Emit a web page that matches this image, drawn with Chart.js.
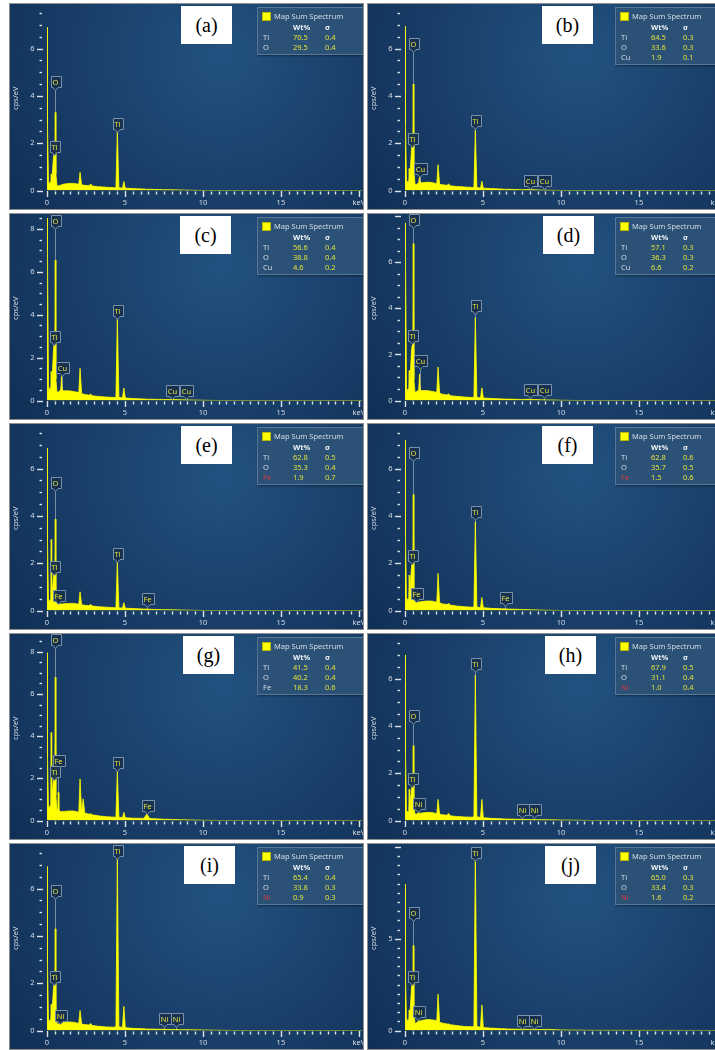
<!DOCTYPE html>
<html>
<head>
<meta charset="utf-8">
<script src="https://cdn.jsdelivr.net/npm/chart.js@4/dist/chart.umd.min.js"></script>
<style>
html, body { margin: 0; padding: 0; background: #fff; }
body { width: 715px; height: 1050px; overflow: hidden; position: relative; font-family: 'Noto Sans', sans-serif; }
.panel { position: absolute; width: 353px; height: 205px; outline: 1px solid #8f8f8f; overflow: hidden; background: #14365e; }
.panel canvas { position: absolute; left: 0; top: 0; }
.tag { position: absolute; top: 2px; width: 51px; height: 38px; background: #fff; color: #000;
  font: 20px 'Liberation Serif', 'Times New Roman', serif; line-height: 38px; text-align: center; }
.legend { position: absolute; left: 247px; top: 3px; width: 112px; background: #2b5276;
  border: 1px solid #56789a; box-shadow: 1px 1px 2px rgba(0,0,0,.45); font-size: 7.5px; color: #d4dbe4; }
.legend span { position: absolute; white-space: nowrap; line-height: 10px; }
.legend .sq { width: 7px; height: 7px; background: #ffff00; border: 1px solid #b8b800; left: 4px; top: 4px; }
.legend .hd { font-weight: bold; color: #eef2f6; }
.legend .val { color: #e0e03c; }
.legend .red { color: #d83a3a; }
</style>
</head>
<body>
<script>
// energy axis shared by all ten spectra (keV)
var energyKeV = [0, 0.03, 0.10, 0.18, 0.24, 0.27, 0.30, 0.36, 0.42, 0.47,
  0.50, 0.53, 0.57, 0.64, 0.69, 0.72, 0.76, 0.82, 0.85, 0.88,
  0.93, 0.98, 1.10, 1.40, 1.70, 1.98, 2.04, 2.12, 2.22, 2.32,
  2.42, 2.70, 2.80, 2.90, 3.30, 3.80, 4.30, 4.42, 4.51, 4.61,
  4.84, 4.93, 5.02, 5.50, 6.20, 6.40, 6.60, 7.20, 7.48, 8.04,
  8.60, 9.20, 10.0, 11.0, 12.0, 20.5];

// counts, cps/eV
var countsA = [6.9, 2.8, 0.25, 0.35, 0.3, 0.7, 0.35, 0.9, 1.45, 1.55,
  1.3, 3.3, 0.7, 0.22, 0.18, 0.2, 0.2, 0.22, 0.22, 0.23,
  0.24, 0.25, 0.27, 0.3, 0.3, 0.27, 0.27, 0.77, 0.24, 0.23,
  0.22, 0.2, 0.28, 0.19, 0.16, 0.14, 0.12, 0.12, 2.48, 0.12,
  0.1, 0.38, 0.1, 0.08, 0.06, 0.05, 0.05, 0.04, 0.035, 0.03,
  0.02, 0.01, 0, 0, 0, 0];
var countsB = [6.95, 2.8, 0.3, 0.4, 0.35, 0.93, 0.4, 1.1, 1.75, 1.95,
  1.6, 4.5, 0.8, 0.28, 0.25, 0.26, 0.27, 0.3, 0.32, 0.35,
  0.56, 0.33, 0.33, 0.35, 0.34, 0.3, 0.3, 1.09, 0.27, 0.25,
  0.24, 0.22, 0.28, 0.2, 0.17, 0.15, 0.13, 0.13, 2.54, 0.13,
  0.1, 0.39, 0.1, 0.08, 0.06, 0.05, 0.05, 0.04, 0.035, 0.04,
  0.02, 0.01, 0, 0, 0, 0];
var countsC = [8.5, 7.0, 0.4, 0.6, 0.5, 1.35, 0.6, 1.5, 2.4, 2.67,
  2.2, 6.54, 1.0, 0.4, 0.38, 0.4, 0.42, 0.45, 0.48, 0.5,
  1.12, 0.48, 0.45, 0.45, 0.42, 0.38, 0.38, 1.5, 0.33, 0.3,
  0.28, 0.25, 0.3, 0.22, 0.19, 0.16, 0.14, 0.15, 3.83, 0.15,
  0.12, 0.58, 0.12, 0.09, 0.07, 0.06, 0.06, 0.05, 0.045, 0.05,
  0.035, 0.025, 0.01, 0, 0, 0];
var countsD = [7.7, 6.4, 0.35, 0.5, 0.45, 1.3, 0.5, 1.4, 2.2, 2.4,
  2.0, 6.8, 0.9, 0.38, 0.36, 0.38, 0.4, 0.42, 0.45, 0.48,
  1.15, 0.45, 0.43, 0.43, 0.4, 0.36, 0.36, 1.45, 0.32, 0.29,
  0.27, 0.24, 0.29, 0.21, 0.18, 0.15, 0.13, 0.14, 3.6, 0.14,
  0.11, 0.55, 0.11, 0.09, 0.07, 0.06, 0.06, 0.05, 0.045, 0.05,
  0.035, 0.025, 0.01, 0, 0, 0];
var countsE = [6.87, 2.93, 0.3, 0.45, 0.4, 3.0, 0.45, 1.0, 1.5, 1.57,
  1.3, 3.86, 0.7, 0.3, 0.28, 0.3, 0.28, 0.27, 0.27, 0.27,
  0.28, 0.28, 0.29, 0.3, 0.3, 0.27, 0.27, 0.79, 0.25, 0.23,
  0.22, 0.2, 0.26, 0.19, 0.16, 0.14, 0.12, 0.12, 2.07, 0.12,
  0.1, 0.33, 0.1, 0.08, 0.06, 0.06, 0.05, 0.04, 0.035, 0.03,
  0.02, 0.01, 0, 0, 0, 0];
var countsF = [7.2, 3.2, 0.35, 0.5, 0.45, 1.5, 0.5, 1.3, 1.85, 2.0,
  1.7, 4.9, 0.85, 0.35, 0.33, 0.36, 0.34, 0.34, 0.35, 0.36,
  0.37, 0.37, 0.38, 0.4, 0.4, 0.36, 0.36, 1.57, 0.33, 0.3,
  0.28, 0.25, 0.3, 0.23, 0.19, 0.16, 0.14, 0.15, 3.75, 0.15,
  0.12, 0.55, 0.12, 0.09, 0.07, 0.07, 0.06, 0.05, 0.04, 0.03,
  0.02, 0.01, 0, 0, 0, 0];
var countsG = [7.96, 3.0, 0.5, 0.7, 0.6, 4.17, 0.7, 1.5, 2.0, 2.1,
  1.8, 6.8, 1.2, 0.5, 0.55, 1.33, 0.5, 0.45, 0.43, 0.43,
  0.43, 0.43, 0.43, 0.45, 0.45, 0.4, 0.42, 1.97, 0.4, 1.03,
  0.35, 0.3, 0.32, 0.27, 0.22, 0.18, 0.16, 0.16, 2.32, 0.16,
  0.13, 0.38, 0.13, 0.11, 0.1, 0.3, 0.09, 0.07, 0.06, 0.05,
  0.035, 0.025, 0.01, 0, 0, 0];
var countsH = [7.0, 2.9, 0.3, 0.4, 0.35, 1.32, 0.4, 0.9, 1.35, 1.46,
  1.2, 3.16, 0.6, 0.28, 0.27, 0.27, 0.28, 0.3, 0.35, 0.3,
  0.3, 0.31, 0.32, 0.34, 0.34, 0.3, 0.3, 0.89, 0.27, 0.25,
  0.24, 0.22, 0.3, 0.2, 0.17, 0.15, 0.14, 0.16, 6.14, 0.16,
  0.13, 0.89, 0.12, 0.09, 0.07, 0.06, 0.06, 0.05, 0.05, 0.04,
  0.035, 0.03, 0.02, 0.01, 0, 0];
var countsI = [6.93, 2.87, 0.3, 0.45, 0.4, 1.1, 0.45, 1.2, 1.85, 2.02,
  1.7, 4.3, 0.8, 0.3, 0.28, 0.28, 0.29, 0.31, 0.36, 0.32,
  0.32, 0.33, 0.34, 0.36, 0.35, 0.31, 0.31, 0.85, 0.28, 0.26,
  0.25, 0.23, 0.3, 0.21, 0.18, 0.15, 0.14, 0.16, 7.28, 0.16,
  0.13, 1.02, 0.12, 0.09, 0.07, 0.06, 0.06, 0.05, 0.05, 0.04,
  0.035, 0.03, 0.02, 0.01, 0, 0];
var countsJ = [7.97, 3.1, 0.4, 0.6, 0.55, 1.12, 0.6, 1.5, 2.35, 2.56,
  2.2, 4.63, 1.0, 0.4, 0.4, 0.42, 0.43, 0.46, 0.55, 0.5,
  0.5, 0.52, 0.55, 0.6, 0.58, 0.55, 0.52, 1.98, 0.45, 0.42,
  0.4, 0.35, 0.36, 0.32, 0.27, 0.22, 0.2, 0.22, 9.77, 0.22,
  0.18, 1.39, 0.16, 0.13, 0.1, 0.09, 0.08, 0.07, 0.07, 0.06,
  0.05, 0.06, 0.03, 0.02, 0.01, 0];

// peak markers: element, line energy (keV), marker tip (cps/eV)
var peaksA = [['O', 0.525, 4.26], ['Ti', 0.452, 1.49], ['Ti', 4.51, 2.47]];
var peaksB = [['O', 0.525, 5.85], ['Ti', 0.452, 1.82], ['Cu', 0.93, 0.55], ['Ti', 4.51, 2.58], ['Cu', 8.04, 0.05], ['Cu', 8.90, 0.05]];
var peaksC = [['O', 0.525, 7.99], ['Ti', 0.452, 2.57], ['Cu', 0.93, 1.13], ['Ti', 4.51, 3.8], ['Cu', 8.04, 0.08], ['Cu', 8.90, 0.08]];
var peaksD = [['O', 0.525, 7.5], ['Ti', 0.452, 2.45], ['Cu', 0.93, 1.37], ['Ti', 4.51, 3.75], ['Cu', 8.04, 0.1], ['Cu', 8.90, 0.1]];
var peaksE = [['O', 0.525, 5.04], ['Ti', 0.452, 1.48], ['Fe', 0.705, 0.26], ['Ti', 4.51, 2.04], ['Fe', 6.40, 0.13]];
var peaksF = [['O', 0.525, 6.3], ['Ti', 0.452, 1.96], ['Fe', 0.705, 0.38], ['Ti', 4.51, 3.83], ['Fe', 6.40, 0.17]];
var peaksG = [['O', 0.525, 8.18], ['Fe', 0.705, 2.45], ['Ti', 0.452, 1.9], ['Ti', 4.51, 2.33], ['Fe', 6.40, 0.32]];
var peaksH = [['O', 0.525, 4.06], ['Ti', 0.452, 1.43], ['Ni', 0.851, 0.36], ['Ti', 4.51, 6.26], ['Ni', 7.48, 0.09], ['Ni', 8.26, 0.09]];
var peaksI = [['O', 0.525, 5.55], ['Ti', 0.452, 1.93], ['Ni', 0.851, 0.29], ['Ti', 4.51, 7.26], ['Ni', 7.48, 0.16], ['Ni', 8.26, 0.16]];
var peaksJ = [['O', 0.525, 5.99], ['Ti', 0.452, 2.46], ['Ni', 0.851, 0.55], ['Ti', 4.51, 9.25], ['Ni', 7.48, 0.1], ['Ni', 8.26, 0.1]];

// Map Sum Spectrum tables: element, Wt%, sigma
var compA = [['Ti', '70.5', '0.4'], ['O', '29.5', '0.4']];
var compB = [['Ti', '64.5', '0.3'], ['O', '33.6', '0.3'], ['Cu', '1.9', '0.1']];
var compC = [['Ti', '56.6', '0.4'], ['O', '38.8', '0.4'], ['Cu', '4.6', '0.2']];
var compD = [['Ti', '57.1', '0.3'], ['O', '36.3', '0.3'], ['Cu', '6.6', '0.2']];
var compE = [['Ti', '62.8', '0.5'], ['O', '35.3', '0.4'], ['Fe', '1.9', '0.7']];
var compF = [['Ti', '62.8', '0.6'], ['O', '35.7', '0.5'], ['Fe', '1.5', '0.6']];
var compG = [['Ti', '41.5', '0.4'], ['O', '40.2', '0.4'], ['Fe', '18.3', '0.6']];
var compH = [['Ti', '67.9', '0.5'], ['O', '31.1', '0.4'], ['Ni', '1.0', '0.4']];
var compI = [['Ti', '65.4', '0.4'], ['O', '33.8', '0.3'], ['Ni', '0.9', '0.3']];
var compJ = [['Ti', '65.0', '0.3'], ['O', '33.4', '0.3'], ['Ni', '1.6', '0.2']];

var panelLetters = ['a', 'b', 'c', 'd', 'e', 'f', 'g', 'h', 'i', 'j'];
var yAxisMax = [7.8, 7.8, 8.6, 8.0, 7.8, 7.8, 8.75, 7.8, 7.8, 10.05];
var yMajorStep = [2, 2, 2, 2, 2, 2, 2, 2, 2, 5];

var allCounts = [countsA, countsB, countsC, countsD, countsE, countsF, countsG, countsH, countsI, countsJ];
var allPeaks = [peaksA, peaksB, peaksC, peaksD, peaksE, peaksF, peaksG, peaksH, peaksI, peaksJ];
var allComp = [compA, compB, compC, compD, compE, compF, compG, compH, compI, compJ];
var redThird = [false, false, false, false, true, true, false, true, true, true];
var tagLeft = [171, 174, 170, 175, 171, 174, 173, 177, 174, 177];

var TICK_FONT = { family: 'Noto Sans', size: 7.5 };

function drawTag(ctx, text, px, tipY) {
  ctx.font = '7.5px "Noto Sans"';
  var w = Math.max(9, Math.round(ctx.measureText(text).width) + 4), h = 11;
  var bx = Math.round(px - w / 2) + 0.5, by = Math.round(tipY - 3 - h) + 0.5;
  ctx.beginPath();
  ctx.moveTo(bx, by);
  ctx.lineTo(bx + w, by);
  ctx.lineTo(bx + w, by + h);
  ctx.lineTo(px + 2.5, by + h);
  ctx.lineTo(px, by + h + 3);
  ctx.lineTo(px - 2.5, by + h);
  ctx.lineTo(bx, by + h);
  ctx.closePath();
  ctx.fillStyle = 'rgba(24,48,78,0.92)';
  ctx.fill();
  ctx.strokeStyle = '#7a91ab';
  ctx.lineWidth = 1;
  ctx.stroke();
  ctx.fillStyle = '#e4e43a';
  ctx.textAlign = 'center';
  ctx.textBaseline = 'middle';
  ctx.fillText(text, px, by + h / 2 + 0.5);
}

function makeEdsPlugin(peaks, major) {
  return {
    id: 'eds',
    beforeDraw: function (c) {
      var ctx = c.ctx, w = c.width, h = c.height;
      var g = ctx.createRadialGradient(w * 0.6, h * 0.25, 4, w * 0.6, h * 0.25, w * 0.8);
      g.addColorStop(0, '#22517f');
      g.addColorStop(1, '#0f2c52');
      ctx.save();
      ctx.fillStyle = g;
      ctx.fillRect(0, 0, w, h);
      ctx.restore();
    },
    beforeDatasetsDraw: function (c) {
      var ctx = c.ctx, xs = c.scales.x, ys = c.scales.y, y0 = ys.getPixelForValue(0);
      ctx.save();
      ctx.strokeStyle = 'rgba(150,168,190,0.75)';
      ctx.lineWidth = 1;
      peaks.forEach(function (p) {
        var px = Math.round(xs.getPixelForValue(p[1])) + 0.5;
        ctx.beginPath();
        ctx.moveTo(px, ys.getPixelForValue(p[2]));
        ctx.lineTo(px, y0);
        ctx.stroke();
      });
      ctx.restore();
    },
    afterDatasetsDraw: function (c) {
      var ctx = c.ctx, xs = c.scales.x, ys = c.scales.y;
      ctx.save();
      peaks.forEach(function (p) {
        drawTag(ctx, p[0], Math.round(xs.getPixelForValue(p[1])) + 0.5, ys.getPixelForValue(p[2]));
      });
      ctx.restore();
    },
    afterDraw: function (c) {
      var ctx = c.ctx, xs = c.scales.x, ys = c.scales.y, area = c.chartArea;
      ctx.save();
      ctx.strokeStyle = '#dde4ec';
      ctx.lineWidth = 1.4;
      ys.ticks.forEach(function (t) {
        var py = Math.round(ys.getPixelForValue(t.value)) + 0.5;
        var big = Math.abs(t.value / major - Math.round(t.value / major)) < 1e-6;
        ctx.beginPath();
        if (big) { ctx.moveTo(27, py); ctx.lineTo(33, py); }
        else { ctx.moveTo(29.5, py); ctx.lineTo(32, py); }
        ctx.stroke();
      });
      xs.ticks.forEach(function (t) {
        var px = Math.round(xs.getPixelForValue(t.value)) + 0.5;
        var big = Math.abs(t.value % 5) < 1e-6;
        ctx.beginPath();
        ctx.moveTo(px, area.bottom + (big ? 0.5 : 1));
        ctx.lineTo(px, area.bottom + (big ? 6.5 : 4));
        ctx.stroke();
      });
      ctx.translate(6, (area.top + area.bottom) / 2);
      ctx.rotate(-Math.PI / 2);
      ctx.fillStyle = '#d5dce5';
      ctx.font = '7.5px "Noto Sans"';
      ctx.textAlign = 'center';
      ctx.textBaseline = 'middle';
      ctx.fillText('cps/eV', 0, 0);
      ctx.restore();
    }
  };
}

function buildPanel(i) {
  var col = i % 2, row = Math.floor(i / 2);
  var panel = document.createElement('div');
  panel.className = 'panel';
  panel.style.left = (col === 0 ? 10 : 368) + 'px';
  panel.style.top = (4 + row * 210) + 'px';
  document.body.appendChild(panel);

  var canvas = document.createElement('canvas');
  canvas.width = 353;
  canvas.height = 205;
  panel.appendChild(canvas);

  var tag = document.createElement('div');
  tag.className = 'tag';
  tag.style.left = tagLeft[i] + 'px';
  tag.textContent = '(' + panelLetters[i] + ')';
  panel.appendChild(tag);

  var comp = allComp[i];
  var leg = document.createElement('div');
  leg.className = 'legend';
  leg.style.height = (26 + comp.length * 10) + 'px';
  var html = '<span class="sq"></span><span style="left:16px;top:3px">Map Sum Spectrum</span>' +
    '<span class="hd" style="left:35px;top:14px">Wt%</span><span class="hd" style="left:67px;top:14px">σ</span>';
  comp.forEach(function (r, k) {
    var top = 24 + k * 10;
    var cls = (k === 2 && redThird[i]) ? 'red' : '';
    html += '<span class="' + cls + '" style="left:5px;top:' + top + 'px">' + r[0] + '</span>' +
      '<span class="val" style="left:35px;top:' + top + 'px">' + r[1] + '</span>' +
      '<span class="val" style="left:67px;top:' + top + 'px">' + r[2] + '</span>';
  });
  leg.innerHTML = html;
  panel.appendChild(leg);

  var counts = allCounts[i], yMax = yAxisMax[i], major = yMajorStep[i];
  var points = energyKeV.map(function (e, k) { return { x: e, y: counts[k] }; });

  new Chart(canvas, {
    type: 'line',
    data: {
      datasets: [{
        data: points,
        fill: 'origin',
        backgroundColor: '#ffff00',
        borderColor: '#ffff00',
        borderWidth: 0.8,
        pointRadius: 0,
        tension: 0
      }]
    },
    options: {
      responsive: false,
      animation: false,
      events: [],
      layout: { padding: { top: 2, right: 1, left: 0, bottom: 0 } },
      plugins: { legend: { display: false }, tooltip: { enabled: false } },
      scales: {
        x: {
          type: 'linear', min: 0, max: 20.2,
          grid: { display: false, drawTicks: false },
          border: { display: false },
          ticks: {
            stepSize: 0.5, includeBounds: false, autoSkip: false, maxRotation: 0, minRotation: 0,
            padding: 8, color: '#d5dce5', font: TICK_FONT,
            callback: function (v) {
              if (Math.abs(v - 20) < 1e-6) return 'keV';
              return Math.abs(v % 5) < 1e-6 ? String(v) : '';
            }
          },
          afterFit: function (s) { s.height = 18.5; s.paddingLeft = 0; s.paddingRight = 0; }
        },
        y: {
          type: 'linear', min: 0, max: yMax,
          grid: { display: false, drawTicks: false },
          border: { display: false },
          ticks: {
            stepSize: 0.5, includeBounds: false, autoSkip: false,
            padding: 12.5, color: '#d5dce5', font: TICK_FONT,
            callback: function (v) {
              var isMajor = Math.abs(v / major - Math.round(v / major)) < 1e-6;
              return (isMajor && v <= yMax - 0.3) ? String(v) : '';
            }
          },
          afterFit: function (s) { s.width = 37; s.paddingTop = 0; s.paddingBottom = 0; }
        }
      }
    },
    plugins: [makeEdsPlugin(allPeaks[i], major)]
  });
}

for (var i = 0; i < 10; i++) buildPanel(i);
</script>
</body>
</html>
